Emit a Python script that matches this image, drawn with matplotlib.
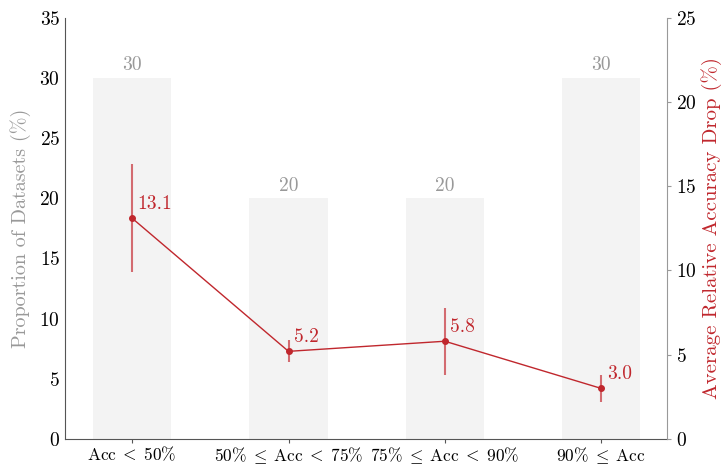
import numpy as np
import matplotlib
matplotlib.use("Agg")
from matplotlib import pyplot as plt

plt.rcParams['font.family'] = 'serif'
plt.rcParams['font.serif'] = ['cmr10']
plt.rcParams['mathtext.fontset'] = 'cm'
plt.rcParams['axes.formatter.use_mathtext'] = True

categories = [r'$\mathrm{Acc}\;<\;50\%$', r'$50\%\;\leq\;\mathrm{Acc}\;<\;75\%$',
              r'$75\%\;\leq\;\mathrm{Acc}\;<\;90\%$', r'$90\%\;\leq\;\mathrm{Acc}$']
proportion = [30, 20, 20, 30]
drop = [13.1, 5.2, 5.8, 3.0]
drop_err = [3.2, 0.65, 2.0, 0.8]

red = '#c0272d'
gray = '#999999'

fig, ax = plt.subplots(figsize=(7.21, 4.66), dpi=100)
x = np.arange(len(categories))

# bars: share of datasets
ax.bar(x, proportion, width=0.5, color='#f3f3f3', zorder=1)
for xi, p in zip(x, proportion):
    ax.text(xi, p + 0.3, f'{p}', ha='center', va='bottom', fontsize=14, color=gray)

ax.set_ylim(0, 35)
ax.set_xlim(-0.43, 3.42)
ax.set_xticks(x)
ax.set_xticklabels(categories, fontsize=12.5)
ax.set_ylabel('Proportion of Datasets (%)', fontsize=14.5, color=gray, labelpad=6)
ax.tick_params(axis='y', labelsize=14, length=0)
ax.tick_params(axis='x', length=3, pad=1.5, color='#555555')
ax.spines['top'].set_visible(False)
ax.spines['right'].set_visible(False)
ax.spines['left'].set_color('#555555')
ax.spines['bottom'].set_color('#555555')

# line: relative accuracy drop
ax2 = ax.twinx()
ax2.errorbar(x, drop, yerr=drop_err, color=red, marker='o', markersize=4,
             linewidth=1, ecolor='#d36b70', elinewidth=1.5, capsize=0, zorder=3)
for xi, d in zip(x, drop):
    ax2.annotate(f'{d:.1f}', (xi, d), xytext=(4, 4), textcoords='offset points',
                 ha='left', va='bottom', fontsize=14, color=red)
ax2.set_ylim(0, 25)
ax2.set_ylabel('Average Relative Accuracy Drop (%)', fontsize=15, color=red, labelpad=3)
ax2.tick_params(axis='y', labelsize=14, length=3, color=gray)
ax2.spines['top'].set_visible(False)
ax2.spines['left'].set_visible(False)
ax2.spines['bottom'].set_visible(False)
ax2.spines['right'].set_color(gray)

plt.subplots_adjust(left=0.09, right=0.925, top=0.962, bottom=0.058)
plt.savefig('out.png', dpi=100)
plt.close()
